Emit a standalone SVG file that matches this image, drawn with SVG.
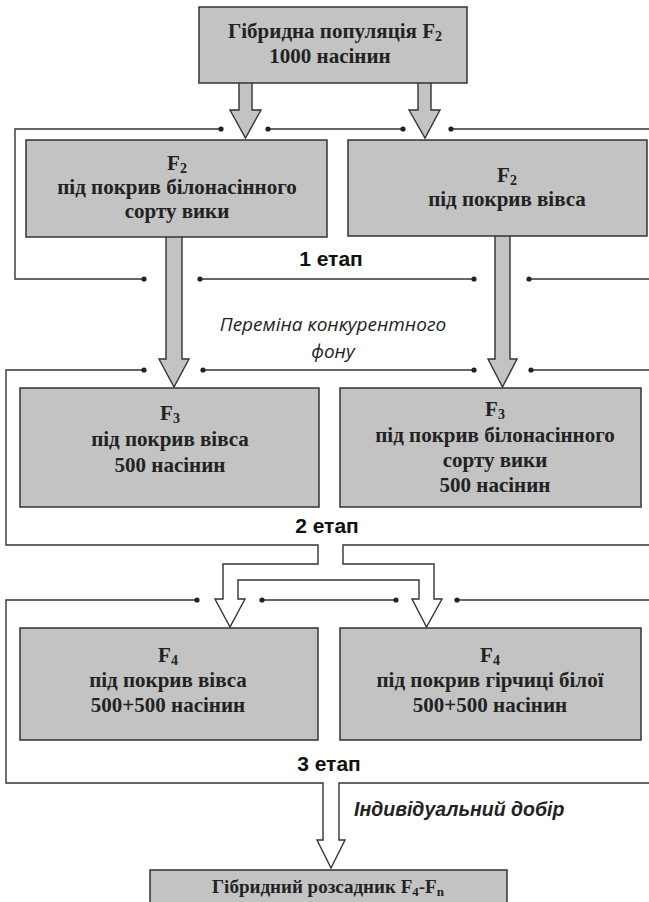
<svg xmlns="http://www.w3.org/2000/svg" width="649" height="902" viewBox="0 0 649 902">
<style>
.box{fill:#c3c3c3;stroke:#333;stroke-width:1.5}
.nt{font-family:"Liberation Serif",serif;font-weight:bold;font-size:21px;fill:#222;text-anchor:middle}
.sub{font-size:14px}
.ln{fill:none;stroke:#333;stroke-width:1.4}
.arw{fill:#c3c3c3;stroke:#333;stroke-width:1.4;stroke-linejoin:miter}
.dot{fill:#222}
.st{font-family:"Liberation Sans",Arial,sans-serif;font-weight:bold;font-size:21px;fill:#111;text-anchor:middle}
.it{font-family:"Open Sans","Liberation Sans",sans-serif;font-style:italic;font-size:19px;fill:#222;text-anchor:middle}
.bi{font-family:"Liberation Sans",Arial,sans-serif;font-style:italic;font-weight:bold;font-size:19.5px;fill:#222}
</style>
<rect width="649" height="902" fill="#fff"/>
<g id="connectors">
<polygon class="arw" points="239,80 252,80 252,110 261,110 245.5,138 230,110 239,110"/>
<polygon class="arw" points="418,80 431,80 431,110 440,110 425,138 409,110 418,110"/>
<polygon class="arw" points="166,235 182,235 182,359 189,359 174,387 159,359 166,359"/>
<polygon class="arw" points="495,234 510,234 510,359 517,359 502.5,387 488,359 495,359"/>
<polyline class="ln" points="221,129 15,129 15,279 144,279"/>
<line class="ln" x1="268" y1="129" x2="403" y2="129"/>
<line class="ln" x1="451" y1="129" x2="649" y2="129"/>
<line class="ln" x1="200" y1="279" x2="474" y2="279"/>
<line class="ln" x1="529" y1="279" x2="649" y2="279"/>
<polyline class="ln" points="144,370 6,370 6,545 318,545 318,564 223,564 223,599 215,599 230,627 245,599 238,599 238,580 419,580 419,599 412,599 426.5,627 442,599 434,599 434,564 343,564 343,545 649,545"/>
<line class="ln" x1="203" y1="370" x2="474" y2="370"/>
<line class="ln" x1="531" y1="370" x2="649" y2="370"/>
<polyline class="ln" points="197,600 6,600 6,783 323,783 323,840 317,840 331,868 345,840 339,840 339,783 649,783"/>
<line class="ln" x1="262" y1="600" x2="396" y2="600"/>
<line class="ln" x1="457" y1="600" x2="649" y2="600"/>
<g class="dot">
<circle cx="221" cy="129" r="2.6"/><circle cx="268" cy="129" r="2.6"/><circle cx="403" cy="129" r="2.6"/><circle cx="451" cy="129" r="2.6"/>
<circle cx="144" cy="279" r="2.6"/><circle cx="200" cy="279" r="2.6"/><circle cx="474" cy="279" r="2.6"/><circle cx="529" cy="279" r="2.6"/>
<circle cx="144" cy="370" r="2.6"/><circle cx="203" cy="370" r="2.6"/><circle cx="474" cy="370" r="2.6"/><circle cx="531" cy="370" r="2.6"/>
<circle cx="197" cy="600" r="2.6"/><circle cx="262" cy="600" r="2.6"/><circle cx="396" cy="600" r="2.6"/><circle cx="457" cy="600" r="2.6"/>
</g>
</g>
<g id="n-top">
<rect class="box" x="199" y="7" width="268" height="76"/>
<text class="nt" x="335" y="38">Гібридна популяція F<tspan class="sub" dy="3">2</tspan></text>
<text class="nt" x="330" y="63">1000 насінин</text>
</g>
<g id="n-f2-left">
<rect class="box" x="26" y="140" width="301" height="97"/>
<text class="nt" x="177" y="170">F<tspan class="sub" dy="3">2</tspan></text>
<text class="nt" x="177" y="194">під покрив білонасінного</text>
<text class="nt" x="177" y="218">сорту вики</text>
</g>
<g id="n-f2-right">
<rect class="box" x="348" y="140" width="299" height="96"/>
<text class="nt" x="507" y="182">F<tspan class="sub" dy="3">2</tspan></text>
<text class="nt" x="507" y="206">під покрив вівса</text>
</g>
<text class="st" x="331" y="266">1 етап</text>
<text class="it" x="333" y="331">Переміна конкурентного</text>
<text class="it" x="333" y="358">фону</text>
<g id="n-f3-left">
<rect class="box" x="20" y="388" width="299" height="119"/>
<text class="nt" x="170" y="420">F<tspan class="sub" dy="3">3</tspan></text>
<text class="nt" x="170" y="446">під покрив вівса</text>
<text class="nt" x="170" y="472">500 насінин</text>
</g>
<g id="n-f3-right">
<rect class="box" x="340" y="388" width="301" height="119"/>
<text class="nt" x="495" y="416">F<tspan class="sub" dy="3">3</tspan></text>
<text class="nt" x="495" y="442">під покрив білонасінного</text>
<text class="nt" x="495" y="467">сорту вики</text>
<text class="nt" x="495" y="492">500 насінин</text>
</g>
<text class="st" x="327" y="533">2 етап</text>
<g id="n-f4-left">
<rect class="box" x="20" y="628" width="298" height="112"/>
<text class="nt" x="168" y="662">F<tspan class="sub" dy="3">4</tspan></text>
<text class="nt" x="168" y="687">під покрив вівса</text>
<text class="nt" x="168" y="712">500+500 насінин</text>
</g>
<g id="n-f4-right">
<rect class="box" x="340" y="628" width="301" height="112"/>
<text class="nt" x="490" y="662">F<tspan class="sub" dy="3">4</tspan></text>
<text class="nt" x="490" y="687">під покрив гірчиці білої</text>
<text class="nt" x="490" y="712">500+500 насінин</text>
</g>
<text class="st" x="329" y="771">3 етап</text>
<text class="bi" x="354" y="816">Індивідуальний добір</text>
<g id="n-bottom">
<rect class="box" x="150" y="870" width="357" height="40"/>
<text class="nt" x="328" y="893" style="font-size:19px">Гібридний розсадник F<tspan class="sub" style="font-size:13px" dy="3">4</tspan><tspan dy="-3">-F</tspan><tspan class="sub" style="font-size:13px" dy="3">n</tspan></text>
</g>
</svg>
